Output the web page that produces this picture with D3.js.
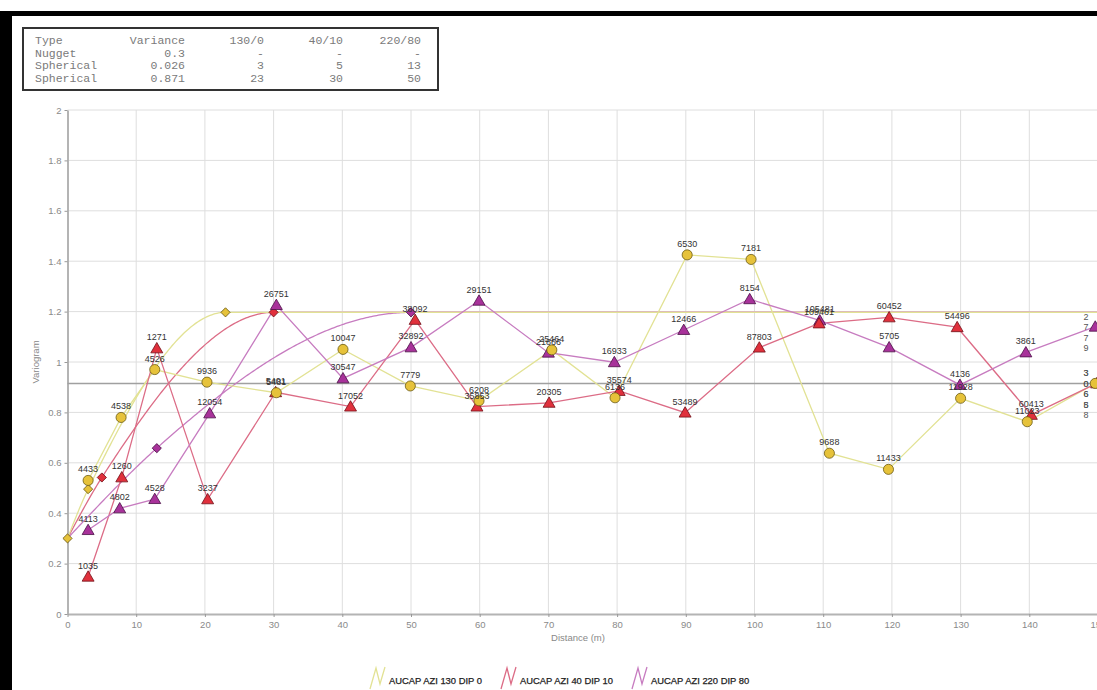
<!DOCTYPE html>
<html>
<head>
<meta charset="utf-8">
<script src="https://cdn.jsdelivr.net/npm/d3@7"></script>
<style>
  html, body { margin: 0; padding: 0; background: #fff; }
  svg { display: block; }
</style>
</head>
<body>
<svg id="chart" width="1097" height="690"></svg>
<script>
// ---- Model table (nested spherical variogram) ----
const tableHeader = ["Type", "Variance", "130/0", "40/10", "220/80"];
const tableRows = [
  ["Nugget", "0.3", "-", "-", "-"],
  ["Spherical", "0.026", "3", "5", "13"],
  ["Spherical", "0.871", "23", "30", "50"]
];
const nugget = 0.3;
const sill1 = 0.026;
const sill2 = 0.871;
const range1 = [3, 5, 13];      // per direction: 130/0, 40/10, 220/80
const range2 = [23, 30, 50];
const dataVariance = 0.915;

// ---- Experimental variogram: AUCAP AZI 130 DIP 0 ----
const dist130  = [3.0, 7.8, 12.7, 20.3, 30.4, 40.1, 49.9, 59.9, 70.5, 79.7, 90.2, 99.5, 110.9, 119.5, 130.0, 139.7, 149.6];
const gamma130 = [0.53, 0.78, 0.97, 0.92, 0.878, 1.05, 0.905, 0.846, 1.048, 0.858, 1.425, 1.407, 0.638, 0.574, 0.856, 0.763, 0.915];
const pairs130 = ["4433", "4538", "4526", "9936", "5481", "10047", "7779", "6208", "25464", "6136", "6530", "7181", "9688", "11433", "11928", "11023", "3068"];

// ---- Experimental variogram: AUCAP AZI 40 DIP 10 ----
const dist40  = [3.0, 7.9, 13.0, 20.4, 30.3, 41.2, 50.6, 59.6, 70.1, 80.3, 89.9, 100.7, 109.4, 119.6, 129.5, 140.3, 149.8];
const gamma40 = [0.148, 0.542, 1.054, 0.455, 0.88, 0.823, 1.167, 0.823, 0.838, 0.885, 0.799, 1.057, 1.153, 1.177, 1.138, 0.79, 0.915];
const pairs40 = ["1035", "1260", "1271", "3237", "5401", "17052", "38092", "35853", "20305", "35574", "53489", "87803", "109461", "60452", "54496", "60413", "30658"];

// ---- Experimental variogram: AUCAP AZI 220 DIP 80 ----
const dist220  = [3.0, 7.6, 12.7, 20.7, 30.4, 40.1, 50.0, 59.9, 70.0, 79.6, 89.7, 99.3, 109.5, 119.6, 129.9, 139.5, 149.6];
const gamma220 = [0.333, 0.419, 0.456, 0.796, 1.226, 0.935, 1.058, 1.243, 1.037, 0.999, 1.127, 1.249, 1.165, 1.058, 0.909, 1.038, 1.14];
const pairs220 = ["4113", "4802", "4528", "12054", "26751", "30547", "32892", "29151", "21866", "16933", "12466", "8154", "105481", "5705", "4136", "3861", "2779"];

const seriesNames = ["AUCAP AZI 130 DIP 0", "AUCAP AZI 40 DIP 10", "AUCAP AZI 220 DIP 80"];
const xTicks = d3.range(0, 151, 10);
const yTicks = d3.range(0, 2.01, 0.2);

// ---- Styling ----
const lineColors   = ["#e2e294", "#dc6c86", "#c77cc0"];
const markFill     = ["#e6c23a", "#e0303c", "#a8329a"];
const markStroke   = ["#6b5a14", "#701018", "#4a1046"];
const markShape    = ["circle", "triangle", "triangle"];

const svg = d3.select("#chart");
const W = 1097, H = 690;

// frame
svg.append("rect").attr("x", 0).attr("y", 0).attr("width", W).attr("height", H).attr("fill", "#fff");
svg.append("rect").attr("x", 0).attr("y", 11).attr("width", W).attr("height", 5).attr("fill", "#000");
svg.append("rect").attr("x", 0).attr("y", 11).attr("width", 12).attr("height", H - 11).attr("fill", "#000");

// scales
const x = d3.scaleLinear().domain([0, 150]).range([67.5, 1098]);
const y = d3.scaleLinear().domain([0, 2]).range([614, 110]);

// gridlines
const grid = svg.append("g");
grid.selectAll("line.v").data(xTicks.slice(1)).join("line")
  .attr("x1", d => x(d)).attr("x2", d => x(d))
  .attr("y1", y(2)).attr("y2", y(0))
  .attr("stroke", "#dedede").attr("stroke-width", 1);
grid.selectAll("line.h").data(yTicks.slice(1)).join("line")
  .attr("x1", x(0)).attr("x2", W)
  .attr("y1", d => y(d)).attr("y2", d => y(d))
  .attr("stroke", "#dedede").attr("stroke-width", 1);

// axes
const axFont = "Liberation Sans, Arial, sans-serif";
const yAxis = svg.append("g").attr("transform", `translate(${x(0)},0)`)
  .call(d3.axisLeft(y).tickValues(yTicks).tickSize(3).tickSizeOuter(0)
    .tickFormat(d => d === 0 ? "0" : (Math.abs(d - 1) < 1e-9 || Math.abs(d - 2) < 1e-9) ? d3.format("d")(d) : d3.format(".1f")(d)));
const xAxis = svg.append("g").attr("transform", `translate(0,${y(0)})`)
  .call(d3.axisBottom(x).tickValues(xTicks).tickSize(3).tickSizeOuter(0));
[xAxis, yAxis].forEach(a => {
  a.select(".domain").attr("stroke", "#b4b4b4").attr("stroke-width", 2);
  a.selectAll(".tick line").attr("stroke", "#999");
  a.selectAll(".tick text").attr("fill", "#8a8a8a").attr("font-size", 9.5).attr("font-family", axFont);
});
yAxis.selectAll(".tick text").attr("x", -6);
xAxis.selectAll(".tick text").attr("y", 7);

svg.append("text").attr("transform", `translate(39,${y(1)}) rotate(-90)`)
  .attr("text-anchor", "middle").attr("font-size", 9.5).attr("font-family", axFont)
  .attr("fill", "#888").text("Variogram");
svg.append("text").attr("x", 578).attr("y", 641)
  .attr("text-anchor", "middle").attr("font-size", 9.5).attr("font-family", axFont)
  .attr("fill", "#888").text("Distance (m)");

// data variance line
svg.append("line").attr("x1", x(0)).attr("x2", W)
  .attr("y1", y(dataVariance)).attr("y2", y(dataVariance))
  .attr("stroke", "#a0a0a0").attr("stroke-width", 1.5);

// model curves (nugget + two spherical structures)
const sph = (h, a) => h >= a ? 1 : 1.5 * h / a - 0.5 * Math.pow(h / a, 3);
const model = (h, k) => nugget + sill1 * sph(h, range1[k]) + sill2 * sph(h, range2[k]);
const hs = d3.range(0, 150.01, 0.25);
const curve = d3.line().x(d => x(d[0])).y(d => y(d[1]));
[2, 1, 0].forEach(k => {
  svg.append("path").datum(hs.map(h => [h, model(h, k)]))
    .attr("d", curve).attr("fill", "none")
    .attr("stroke", lineColors[k]).attr("stroke-width", 1.3);
});

// experimental lines
const dists = [dist130, dist40, dist220];
const gammas = [gamma130, gamma40, gamma220];
const pairs = [pairs130, pairs40, pairs220];
const seriesData = dists.map((ds, k) => ds.map((d, i) => ({ h: d, g: gammas[k][i], n: pairs[k][i], k })));
const expLine = d3.line().x(d => x(d.h)).y(d => y(d.g));
[0, 1, 2].forEach(k => {
  svg.append("path").datum(seriesData[k]).attr("d", expLine)
    .attr("fill", "none").attr("stroke", lineColors[k]).attr("stroke-width", 1.3);
});

// model markers: nugget, and the two ranges per direction (square turned 45°)
const diamond = d3.symbol().type(d3.symbolSquare).size(42);
const modelMarks = [{ h: 0, k: 0 }];
[0, 1, 2].forEach(k => { modelMarks.push({ h: range1[k], k }); modelMarks.push({ h: range2[k], k }); });
svg.selectAll("path.dm").data(modelMarks).join("path")
  .attr("transform", d => `translate(${x(d.h)},${y(model(d.h, d.k))}) rotate(45)`)
  .attr("d", diamond).attr("fill", d => markFill[d.k]).attr("stroke", d => markStroke[d.k]).attr("stroke-width", 0.8);

// experimental markers
const tri = d3.symbol().type(d3.symbolTriangle).size(62);
const circ = d3.symbol().type(d3.symbolCircle).size(80);
[2, 1, 0].forEach(k => {
  svg.selectAll(`path.m${k}`).data(seriesData[k]).join("path")
    .attr("transform", d => `translate(${x(d.h)},${y(d.g) + (markShape[k] === "triangle" ? 1 : 0)})`)
    .attr("d", markShape[k] === "triangle" ? tri : circ)
    .attr("fill", markFill[k]).attr("stroke", markStroke[k]).attr("stroke-width", 0.8);
});

// pair-count labels; the last lag sits on the right edge and stacks vertically
const lblFont = "Liberation Sans, Arial, sans-serif";
[0, 1, 2].forEach(k => {
  seriesData[k].forEach(d => {
    if (d.h > 145) {
      const t = svg.append("text").attr("font-size", 9).attr("font-family", lblFont)
        .attr("fill", "#555").attr("text-anchor", "middle");
      d.n.split("").forEach((c, i) => {
        t.append("tspan").attr("x", 1086).attr("y", y(d.g) - 7 + i * 10.5).text(c);
      });
    } else {
      svg.append("text").attr("x", x(d.h)).attr("y", y(d.g) - 8)
        .attr("text-anchor", "middle").attr("font-size", 9).attr("font-family", lblFont)
        .attr("fill", "#333").text(d.n);
    }
  });
});

// legend
const legX = [370, 501, 632];
const leg = svg.append("g");
[0, 1, 2].forEach(k => {
  const g = leg.append("g").attr("transform", `translate(${legX[k]},680)`);
  g.append("path").attr("d", "M0,9 L6,-12 L10,4 L15,-13")
    .attr("fill", "none").attr("stroke", lineColors[k]).attr("stroke-width", 1.3);
  g.append("text").attr("x", 19).attr("y", 3.5).attr("font-size", 9.4)
    .attr("font-family", "Liberation Sans, Arial, sans-serif")
    .attr("fill", "#222").attr("stroke", "#222").attr("stroke-width", 0.25)
    .text(seriesNames[k]);
});

// parameter table
const tb = svg.append("g");
tb.append("rect").attr("x", 23).attr("y", 28).attr("width", 415).attr("height", 62)
  .attr("fill", "#fff").attr("stroke", "#333").attr("stroke-width", 2);
const colRight = [null, 185, 264, 343, 421];
const rows = [tableHeader].concat(tableRows);
rows.forEach((r, i) => {
  const yy = 44 + i * 12.5;
  r.forEach((c, j) => {
    tb.append("text").attr("x", j === 0 ? 35 : colRight[j]).attr("y", yy)
      .attr("text-anchor", j === 0 ? "start" : "end")
      .attr("font-size", 11.5).attr("font-family", "Liberation Mono, DejaVu Sans Mono, monospace")
      .attr("fill", "#7a7a7a").text(c);
  });
});
</script>
</body>
</html>
